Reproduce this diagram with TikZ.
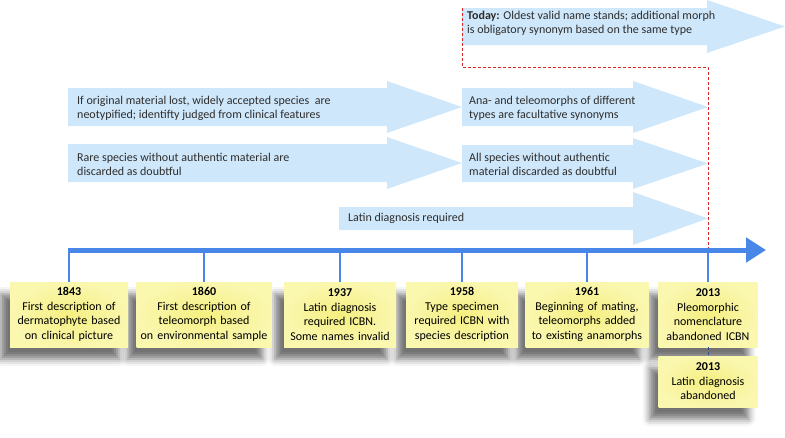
\documentclass[tikz,border=0pt]{standalone}
\usepackage{fontspec}
\setmainfont{Carlito}
\usetikzlibrary{positioning,arrows.meta,shadows.blur}

\definecolor{lineblue}{RGB}{72,134,232}
\definecolor{paleblue}{RGB}{207,231,250}
\definecolor{boxyellow}{RGB}{245,239,128}
\definecolor{boxrim}{RGB}{250,247,175}
\definecolor{txtgray}{RGB}{45,45,45}
\definecolor{nowred}{RGB}{215,40,40}

\newcommand{\bigarrow}[6]{%
  \fill[paleblue] (#1,#4) -- (#2,#4) -- (#2,#4-#6) -- (#3,{(#4+#5)/2})
    -- (#2,#5+#6) -- (#2,#5) -- (#1,#5) -- cycle;}

\tikzset{
  yearbox/.style={inner color=boxyellow, outer color=boxrim, align=center,
    inner sep=0pt, minimum height=65pt,
    text=black, font=\fontsize{12}{14.5}\selectfont,
    blur shadow={shadow xshift=-9pt, shadow yshift=-12pt, shadow blur radius=7pt,
      shadow opacity=55}},
  armtext/.style={anchor=west, align=left, inner sep=0pt, text=txtgray,
    font=\fontsize{12}{14}\selectfont},
  tick/.style={lineblue, line width=2.5pt}
}

\begin{document}
\begin{tikzpicture}[x=1pt,y=-1pt]
  \useasboundingbox (0,0) rectangle (785,437);

  \bigarrow{462}{707}{785}{8}{45}{8}
  \bigarrow{68}{387}{462}{88}{126}{7}
  \bigarrow{462}{633}{708}{88}{126}{7}
  \bigarrow{68}{387}{462}{144}{182}{7}
  \bigarrow{462}{633}{708}{145}{182}{7}
  \bigarrow{339}{633}{708}{207}{230}{15}

  \node[armtext] (today) at (467,23.5) {\textbf{Today:} Oldest valid name stands; additional morph\\is obligatory synonym based on the same type};
  \node[armtext] (neotype) at (77,108) {If original material lost, widely accepted species\ \ are\\neotypified; identifty judged from clinical features};
  \node[armtext] (anatele) at (469,108) {Ana- and teleomorphs of different\\types are facultative synonyms};
  \node[armtext] (rare) at (77,164) {Rare species without authentic material are\\discarded as doubtful};
  \node[armtext] (allsp) at (469,164) {All species without authentic\\material discarded as doubtful};
  \node[armtext] (latin) at (348,218.5) {Latin diagnosis required};

  \coordinate (r1) at (462,8);
  \coordinate (r2) at (462,67);
  \coordinate (r3) at (708,67);
  \coordinate (now) at (708,250);
  \draw[nowred, densely dashed, line width=0.6pt] (r1) -- (r2) -- (r3) -- (now);

  \coordinate (tlstart) at (68,250);
  \coordinate (tlend) at (766,250);
  \draw[lineblue, line width=5pt, -{Triangle[length=20pt,width=24pt]}] (tlstart) -- (tlend);

  \node[yearbox, text width=99pt] (y2013a) at (708,314.5) {\textbf{2013}\\Pleomorphic\\nomenclature\\abandoned ICBN};
  \node[yearbox, text width=99pt, minimum height=51pt] (y2013b) at (708,381.5) {\textbf{2013}\\Latin diagnosis\\abandoned};
  \node[yearbox, text width=123pt] (y1961) at (587,314.5) {\textbf{1961}\\Beginning of mating,\\teleomorphs added\\to existing anamorphs};
  \node[yearbox, text width=112pt] (y1958) at (462,314.5) {\textbf{1958}\\Type specimen\\required ICBN with\\species description};
  \node[yearbox, text width=112pt] (y1937) at (340,314.5) {\textbf{1937}\\Latin diagnosis\\required ICBN.\\Some names invalid};
  \node[yearbox, text width=135pt] (y1860) at (204,314.5) {\textbf{1860}\\First description of\\teleomorph based\\on environmental sample};
  \node[yearbox, text width=118pt] (y1843) at (69,314.5) {\textbf{1843}\\First description of\\dermatophyte based\\on clinical picture};

  \foreach \yr in {y1843,y1860,y1937,y1958,y1961,y2013a}
    \draw[tick] (\yr.north) -- (\yr.north |- tlstart);
  \draw[lineblue!60!black, densely dashed, line width=0.6pt] (y2013a) -- (y2013b);
\end{tikzpicture}
\end{document}
